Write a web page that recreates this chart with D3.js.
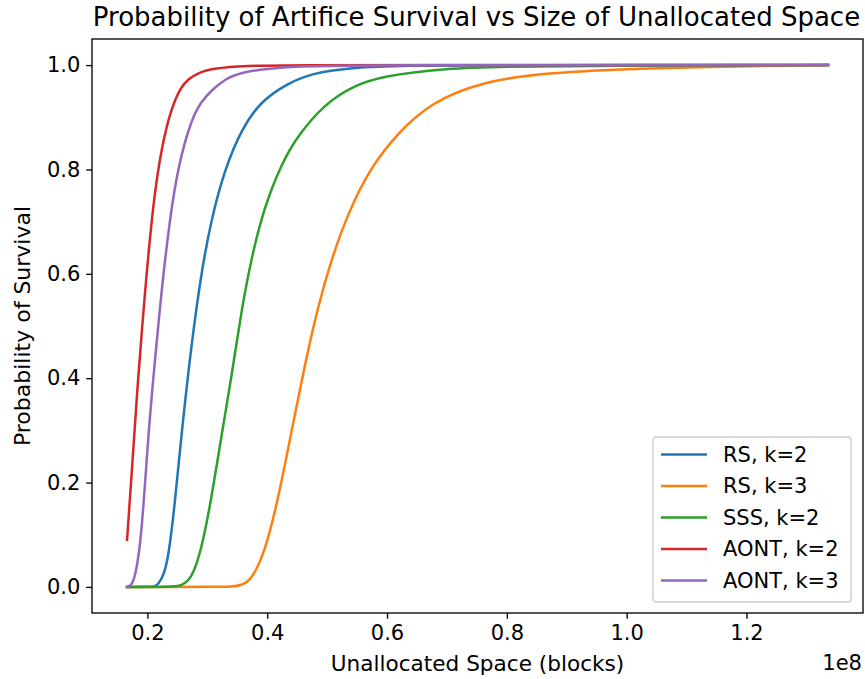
<!DOCTYPE html>
<html>
<head>
<meta charset="utf-8">
<script src="https://cdn.jsdelivr.net/npm/d3@7"></script>
<style>
  body { margin: 0; background: #fff; }
  text { font-family: "DejaVu Sans", sans-serif; fill: #000; }
</style>
</head>
<body>
<div id="graphRender"></div>
<script>
// unallocated space in units of 1e8 blocks, survival probability
var rsK2X   = [0.166, 0.200, 0.212, 0.218, 0.227, 0.235, 0.2458, 0.257, 0.2736, 0.290, 0.307, 0.329, 0.357, 0.390, 0.4346, 0.473, 0.540, 0.623, 0.790, 1.336];
var rsK2Y   = [0, 0, 0.001, 0.005, 0.022, 0.056, 0.159, 0.295, 0.466, 0.603, 0.706, 0.800, 0.877, 0.932, 0.965, 0.984, 0.995, 0.999, 1, 1];

var rsK3X   = [0.166, 0.320, 0.340, 0.357, 0.3734, 0.3957, 0.418, 0.440, 0.462, 0.4846, 0.5067, 0.5346, 0.573, 0.618, 0.673, 0.7565, 0.868, 1.0346, 1.1445, 1.336];
var rsK3Y   = [0, 0, 0.0005, 0.003, 0.013, 0.065, 0.167, 0.295, 0.422, 0.537, 0.626, 0.716, 0.805, 0.870, 0.928, 0.968, 0.986, 0.994, 0.997, 1];

var sssK2X  = [0.166, 0.240, 0.257, 0.2736, 0.290, 0.307, 0.3236, 0.340, 0.357, 0.3734, 0.3957, 0.4235, 0.451, 0.4956, 0.540, 0.590, 0.7016, 0.790, 0.956, 1.336];
var sssK2Y  = [0, 0, 0.002, 0.015, 0.07, 0.17, 0.29, 0.40, 0.53, 0.63, 0.73, 0.81, 0.865, 0.925, 0.958, 0.979, 0.994, 0.997, 0.999, 1];

var aontK2X = [0.166, 0.174, 0.182, 0.196, 0.210, 0.2236, 0.240, 0.256, 0.268, 0.287, 0.307, 0.362, 0.457, 0.623, 1.336];
var aontK2Y = [0.09, 0.22, 0.364, 0.569, 0.740, 0.843, 0.918, 0.958, 0.973, 0.986, 0.993, 0.999, 1, 1, 1];

var aontK3X = [0.166, 0.172, 0.179, 0.190, 0.2015, 0.2125, 0.2236, 0.2375, 0.2515, 0.2736, 0.290, 0.307, 0.330, 0.351, 0.418, 0.540, 1.336];
var aontK3Y = [0, 0.002, 0.015, 0.09, 0.295, 0.433, 0.569, 0.706, 0.808, 0.897, 0.930, 0.952, 0.973, 0.985, 0.997, 1, 1];

var seriesNames  = ["RS, k=2", "RS, k=3", "SSS, k=2", "AONT, k=2", "AONT, k=3"];
var seriesColors = ["#1f77b4", "#ff7f0e", "#2ca02c", "#d62728", "#9467bd"];
var xTicks = [0.2, 0.4, 0.6, 0.8, 1.0, 1.2];
var yTicks = [0.0, 0.2, 0.4, 0.6, 0.8, 1.0];

var series = [
    {name: seriesNames[0], xs: rsK2X,   ys: rsK2Y},
    {name: seriesNames[1], xs: rsK3X,   ys: rsK3Y},
    {name: seriesNames[2], xs: sssK2X,  ys: sssK2Y},
    {name: seriesNames[3], xs: aontK2X, ys: aontK2Y},
    {name: seriesNames[4], xs: aontK3X, ys: aontK3Y}
];

// set the dimensions and margins of the graph
var W = 865, H = 679;
var margin = {top: 39, right: 2, bottom: 66, left: 92},
    width = W - margin.left - margin.right,
    height = H - margin.top - margin.bottom;

var svg = d3.select("#graphRender")
  .append("svg")
    .attr("width", W)
    .attr("height", H);

var g = svg.append("g")
    .attr("transform", "translate(" + margin.left + "," + margin.top + ")");

// matplotlib style 5% padding around the data range
var xmin = d3.min(series, function(s) { return d3.min(s.xs); }),
    xmax = d3.max(series, function(s) { return d3.max(s.xs); }),
    xpad = (xmax - xmin) * 0.05;
var x = d3.scaleLinear().domain([xmin - xpad, xmax + xpad]).range([0, width]);
var y = d3.scaleLinear().domain([-0.05, 1.05]).range([height, 0]);

var line = d3.line()
    .x(function(d) { return x(d[0]); })
    .y(function(d) { return y(d[1]); })
    .curve(d3.curveBasis);

series.forEach(function(s, i) {
    var pts = s.xs.map(function(v, j) { return [v, s.ys[j]]; });
    g.append("path")
        .datum(pts)
        .attr("d", line)
        .attr("fill", "none")
        .attr("stroke", seriesColors[i])
        .attr("stroke-width", 2.5)
        .attr("stroke-linecap", "square");
});

// axes
var xAxis = g.append("g")
    .attr("transform", "translate(0," + height + ")")
    .call(d3.axisBottom(x).tickValues(xTicks).tickFormat(d3.format(".1f")).tickSize(5.8).tickPadding(5.8));
var yAxis = g.append("g")
    .call(d3.axisLeft(y).tickValues(yTicks).tickFormat(d3.format(".1f")).tickSize(5.8).tickPadding(5.8));
[xAxis, yAxis].forEach(function(a) {
    a.select(".domain").remove();
    a.selectAll("line").attr("stroke", "#000").attr("stroke-width", 1.33);
    a.selectAll("text").attr("font-size", "21px").attr("font-family", "DejaVu Sans, sans-serif");
});

// frame
g.append("rect")
    .attr("width", width).attr("height", height)
    .attr("fill", "none").attr("stroke", "#000").attr("stroke-width", 1.33);

// title and labels
svg.append("text")
    .attr("x", margin.left + width / 2 - 1).attr("y", 26)
    .attr("text-anchor", "middle").attr("font-size", "26px")
    .text("Probability of Artifice Survival vs Size of Unallocated Space");

svg.append("text")
    .attr("x", margin.left + width / 2).attr("y", 671)
    .attr("text-anchor", "middle").attr("font-size", "21.6px")
    .text("Unallocated Space (blocks)");

svg.append("text")
    .attr("x", 862).attr("y", 670)
    .attr("text-anchor", "end").attr("font-size", "21px")
    .text("1e8");

svg.append("text")
    .attr("transform", "translate(30," + (margin.top + height / 2) + ") rotate(-90)")
    .attr("text-anchor", "middle").attr("font-size", "22px")
    .text("Probability of Survival");

// legend
var legend = svg.append("g").attr("transform", "translate(653,437)");
legend.append("rect")
    .attr("width", 198).attr("height", 165).attr("rx", 3)
    .attr("fill", "#fff").attr("fill-opacity", 0.8)
    .attr("stroke", "#ccc").attr("stroke-width", 1.33);
seriesNames.forEach(function(name, i) {
    var yy = 17.5 + i * 31.5;
    legend.append("line")
        .attr("x1", 8).attr("x2", 54).attr("y1", yy).attr("y2", yy)
        .attr("stroke", seriesColors[i]).attr("stroke-width", 2.5);
    legend.append("text")
        .attr("x", 70).attr("y", yy).attr("dy", "0.35em")
        .attr("font-size", "21px")
        .text(name);
});
</script>
</body>
</html>
